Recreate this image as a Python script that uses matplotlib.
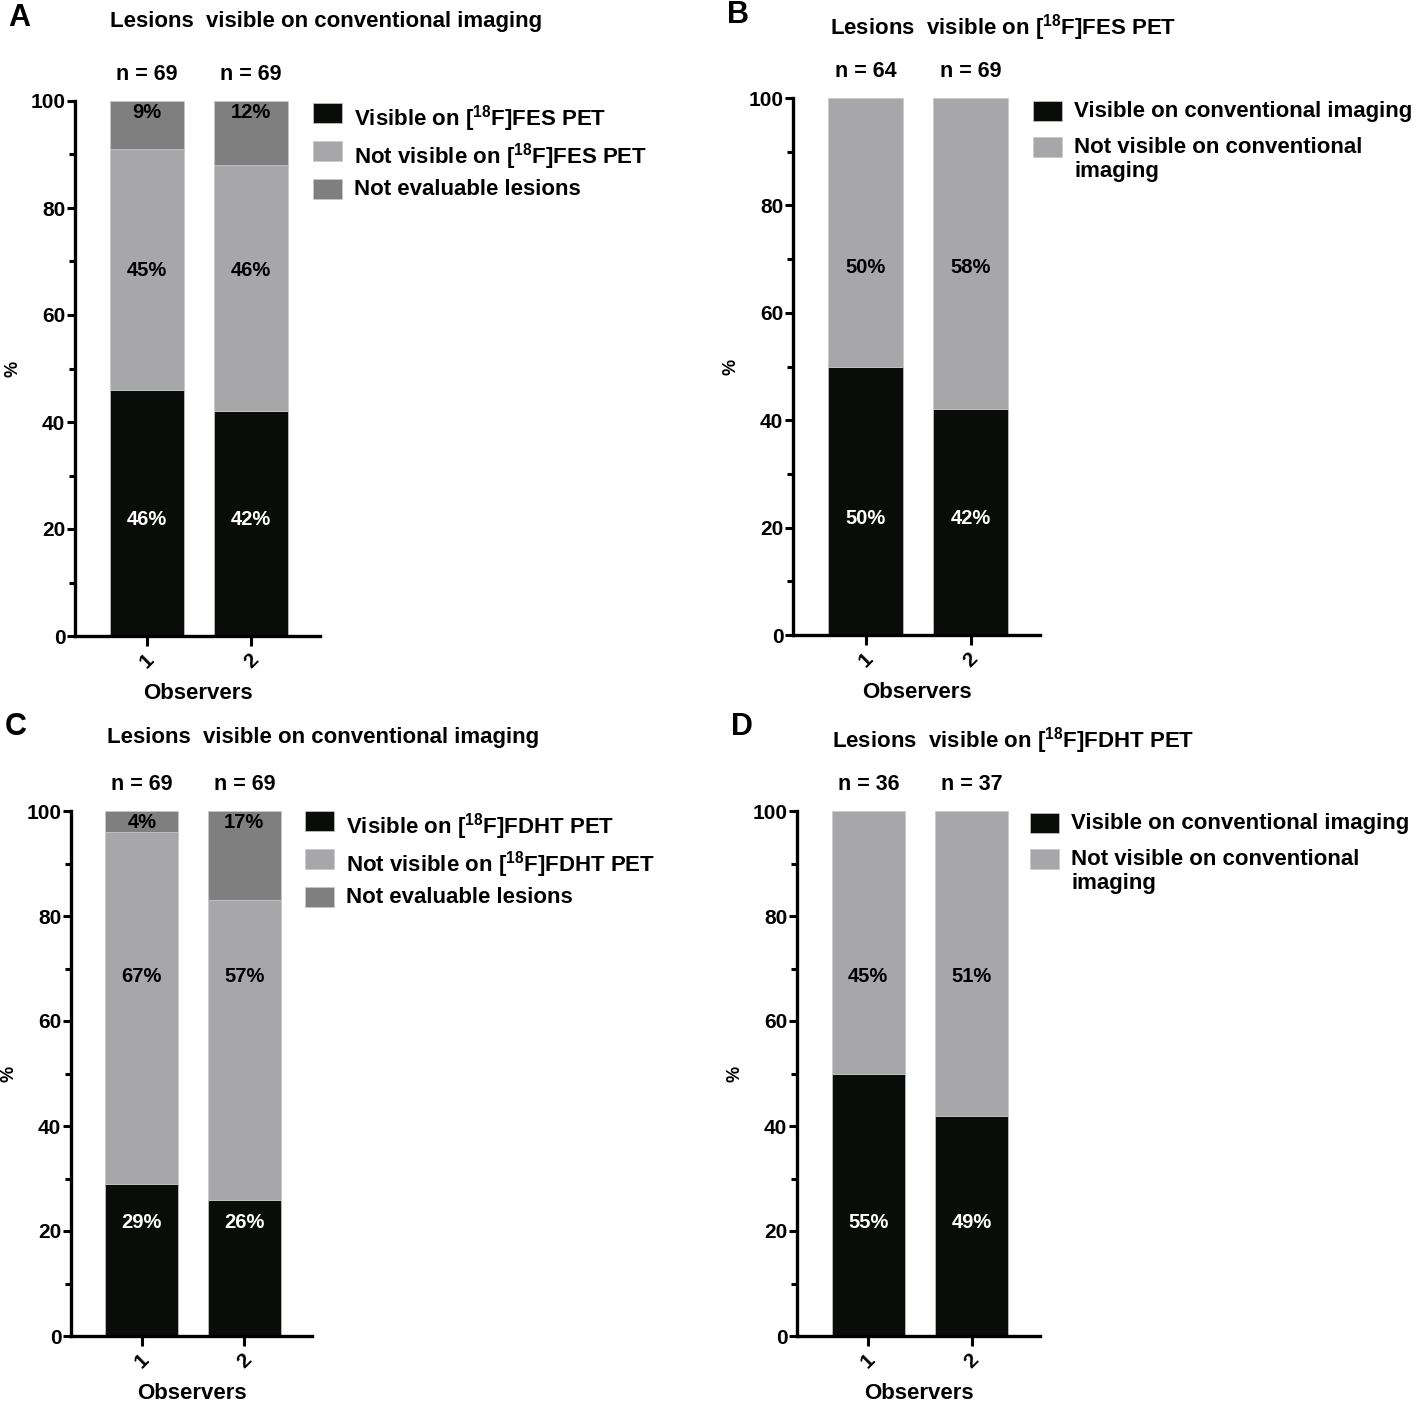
import numpy as np
import matplotlib
matplotlib.use('Agg')
import matplotlib.pyplot as plt
from matplotlib.ticker import MultipleLocator

plt.rcParams.update({'font.family': ['Liberation Sans', 'DejaVu Sans'], 'font.weight': 'bold',
                     'axes.labelweight': 'bold',
                     'mathtext.fontset': 'custom', 'mathtext.rm': 'Liberation Sans:bold',
                     'mathtext.bf': 'Liberation Sans:bold', 'mathtext.default': 'rm'})

observers = ['1', '2']

# A: lesions visible on conventional imaging, read on FES PET
a_visible = [46, 42]
a_not_visible = [45, 46]
a_not_eval = [9, 12]
a_n = [69, 69]
a_pct = [['46%', '42%'], ['45%', '46%'], ['9%', '12%']]

# B: lesions visible on FES PET, checked on conventional imaging
b_visible = [50, 42]
b_not_visible = [50, 58]
b_n = [64, 69]
b_pct = [['50%', '42%'], ['50%', '58%']]

# C: lesions visible on conventional imaging, read on FDHT PET
c_visible = [29, 26]
c_not_visible = [67, 57]
c_not_eval = [4, 17]
c_n = [69, 69]
c_pct = [['29%', '26%'], ['67%', '57%'], ['4%', '17%']]

# D: lesions visible on FDHT PET (bar heights as drawn, labels as printed)
d_visible = [50, 42]
d_not_visible = [50, 58]
d_n = [36, 37]
d_pct = [['55%', '49%'], ['45%', '51%']]

BLACK = '#0a0c0a'
LIGHT = '#a7a6a9'
DARK = '#7f7f7f'
label_y = [21.7, 68.4, 97.8]

W, H = 1418, 1402
fig = plt.figure(figsize=(W / 100, H / 100), dpi=100)


def px_axes(l, r, t, b):
    return fig.add_axes([l / W, 1 - b / H, (r - l) / W, (b - t) / H])


def draw_panel(ax, segs, colors, names, pcts, ns, leg_xy, spacing):
    x = np.arange(1, len(observers) + 1)
    bottom = np.zeros(len(observers))
    handles = []
    for vals, col in zip(segs, colors):
        h = ax.bar(x, vals, 0.71, bottom=bottom, color=col, edgecolor='#c8c8c8', linewidth=0.5)
        handles.append(h)
        bottom += np.array(vals)
    for k, row in enumerate(pcts):
        for xi, lab in zip(x, row):
            ax.text(xi, label_y[k], lab, ha='center', va='center', fontsize=14.5,
                    color='white' if k == 0 else 'black')
    for xi, n in zip(x, ns):
        ax.text(xi, 105, f'n = {n}', ha='center', va='center', fontsize=15.5, clip_on=False)
    ax.set_xlim(0.31, 2.66)
    ax.set_ylim(0, 100)
    ax.set_xticks(x)
    ax.set_xticklabels(observers, rotation=45, fontsize=15)
    ax.yaxis.set_major_locator(MultipleLocator(20))
    ax.yaxis.set_minor_locator(MultipleLocator(10))
    ax.tick_params(axis='y', which='major', length=6, width=2.2, labelsize=15, pad=1)
    ax.tick_params(axis='y', which='minor', length=4, width=2.2)
    ax.tick_params(axis='x', length=7, width=2.2, pad=3)
    for s in ['top', 'right']:
        ax.spines[s].set_visible(False)
    for s in ['left', 'bottom']:
        ax.spines[s].set_linewidth(2.4)
    ax.set_xlabel('Observers', fontsize=16, labelpad=8)
    ax.set_ylabel('%', fontsize=13, labelpad=6)
    leg = ax.legend(handles, names, loc='upper left', bbox_to_anchor=(leg_xy[0] / W, 1 - leg_xy[1] / H),
                    bbox_transform=fig.transFigure, frameon=False, fontsize=16, handlelength=1.3,
                    handleheight=1.0, handletextpad=0.55, labelspacing=spacing, borderpad=0, borderaxespad=0)
    # keep the swatch level with the first line of a wrapped label
    for col in leg._legend_handle_box.get_children():
        for item in col.get_children():
            item.align = 'top'
    for t in leg.get_texts():
        t.set_linespacing(1.2)


axA = px_axes(75, 320, 101, 636)
draw_panel(axA, [a_visible, a_not_visible, a_not_eval], [BLACK, LIGHT, DARK],
           [r'Visible on [$^{18}$F]FES PET', r'Not visible on [$^{18}$F]FES PET', 'Not evaluable lesions'],
           a_pct, a_n, (313, 103), 0.32)

axB = px_axes(793, 1040, 98, 635)
draw_panel(axB, [b_visible, b_not_visible], [BLACK, LIGHT],
           ['Visible on conventional imaging', 'Not visible on conventional\nimaging'],
           b_pct, b_n, (1033, 101), 0.68)

axC = px_axes(71, 312, 811, 1336)
draw_panel(axC, [c_visible, c_not_visible, c_not_eval], [BLACK, LIGHT, DARK],
           [r'Visible on [$^{18}$F]FDHT PET', r'Not visible on [$^{18}$F]FDHT PET', 'Not evaluable lesions'],
           c_pct, c_n, (305, 811), 0.32)

axD = px_axes(797, 1040, 811, 1336)
draw_panel(axD, [d_visible, d_not_visible], [BLACK, LIGHT],
           ['Visible on conventional imaging', 'Not visible on conventional\nimaging'],
           d_pct, d_n, (1030, 813), 0.68)

titles = [('A', 8, 18, 'Lesions  visible on conventional imaging', 110, 21),
          ('B', 727, 15, r'Lesions  visible on [$^{18}$F]FES PET', 830, 28),
          ('C', 5, 727, 'Lesions  visible on conventional imaging', 107, 738),
          ('D', 731, 727, r'Lesions  visible on [$^{18}$F]FDHT PET', 832, 741)]
for letter, lx, ly, title, tx, ty in titles:
    fig.text(lx / W, 1 - ly / H, letter, fontsize=22, ha='left', va='center')
    fig.text(tx / W, 1 - ty / H, title, fontsize=16, ha='left', va='center')

fig.savefig('out.png', dpi=100)
